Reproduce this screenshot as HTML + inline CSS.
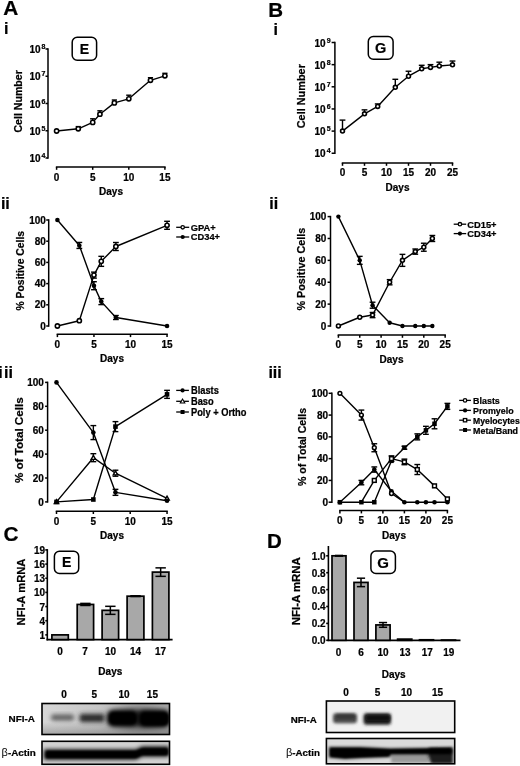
<!DOCTYPE html>
<html><head><meta charset="utf-8"><title>Figure</title>
<style>
html,body{margin:0;padding:0;background:#fff;}
body{width:520px;height:766px;overflow:hidden;}
svg{display:block;font-family:"Liberation Sans", sans-serif;will-change:transform;}
text{stroke:#000;stroke-width:0.22px;}
</style></head>
<body>
<svg width="520" height="766" viewBox="0 0 520 766">
<rect width="520" height="766" fill="#fff"/>
<defs>
<filter id="b1" x="-20%" y="-60%" width="140%" height="220%"><feGaussianBlur stdDeviation="1.5"/></filter>
<filter id="b2" x="-20%" y="-60%" width="140%" height="220%"><feGaussianBlur stdDeviation="2.0"/></filter>
<filter id="b3" x="-20%" y="-60%" width="140%" height="220%"><feGaussianBlur stdDeviation="1.1"/></filter>
<filter id="b5" x="-30%" y="-80%" width="160%" height="260%"><feGaussianBlur stdDeviation="5"/></filter>
<linearGradient id="gC1" x1="0" y1="0" x2="1" y2="0"><stop offset="0" stop-color="#d6d6d6"/><stop offset="0.45" stop-color="#c6c6c6"/><stop offset="1" stop-color="#a8a8a8"/></linearGradient>
<linearGradient id="gC1b" x1="0" y1="0" x2="0" y2="1"><stop offset="0" stop-color="#000" stop-opacity="0"/><stop offset="0.6" stop-color="#000" stop-opacity="0"/><stop offset="1" stop-color="#000" stop-opacity="0.22"/></linearGradient>
<clipPath id="cC1"><rect x="42" y="703.5" width="127.5" height="31"/></clipPath>
<clipPath id="cC2"><rect x="42" y="741.3" width="127.5" height="23"/></clipPath>
<clipPath id="cD1"><rect x="326.4" y="701" width="128.3" height="31.5"/></clipPath>
<clipPath id="cD2"><rect x="326.4" y="738.5" width="128.3" height="25.3"/></clipPath>
</defs>
<!-- C NFI-A -->
<g clip-path="url(#cC1)">
<rect x="42" y="703.5" width="127.5" height="31" fill="url(#gC1)"/>
<rect x="42" y="703.5" width="127.5" height="31" fill="url(#gC1b)"/>
<ellipse cx="138" cy="718" rx="32" ry="10" fill="#000" opacity="0.55" filter="url(#b5)"/>
<rect x="51" y="714.6" width="23" height="6" rx="2.5" fill="#5e5e5e" filter="url(#b2)"/>
<rect x="79.5" y="713.8" width="25" height="8.5" rx="3" fill="#2a2a2a" filter="url(#b2)"/>
<rect x="108" y="710.8" width="61" height="15.5" rx="5" fill="#000" opacity="0.6" filter="url(#b2)"/>
<rect x="108" y="711" width="29" height="14.5" rx="5" fill="#000" filter="url(#b2)"/>
<rect x="139" y="711" width="30" height="15.5" rx="5" fill="#000" filter="url(#b2)"/>
<rect x="110" y="713" width="26" height="10.5" rx="4" fill="#000" filter="url(#b3)"/>
<rect x="141" y="713" width="27" height="11.5" rx="4" fill="#000" filter="url(#b3)"/>
</g>
<rect x="42" y="703.5" width="127.5" height="31" fill="none" stroke="#000" stroke-width="1.6"/>
<!-- C b-Actin -->
<g clip-path="url(#cC2)">
<rect x="42" y="741.3" width="127.5" height="23" fill="#d2d2d2"/>
<path d="M44 749.5 L136 749.5 L142 746.5 L169 746.5 L169 756.5 L142 756.5 L136 759.5 L44 759.5 Z" fill="#000" filter="url(#b2)"/>
<path d="M46 751 L136 751 L142 748.5 L168 748.5 L168 755 L142 755 L136 758 L46 758 Z" fill="#000" filter="url(#b3)"/>
</g>
<rect x="42" y="741.3" width="127.5" height="23" fill="none" stroke="#000" stroke-width="1.6"/>
<!-- D NFI-A -->
<g clip-path="url(#cD1)">
<rect x="326.4" y="701" width="128.3" height="31.5" fill="#f1f1f1"/>
<rect x="333" y="713.2" width="24" height="10" rx="3" fill="#484848" filter="url(#b1)"/>
<rect x="336" y="714.5" width="19" height="4" rx="2" fill="#333" filter="url(#b1)"/>
<rect x="363.5" y="713.2" width="27.5" height="11.5" rx="3" fill="#222" filter="url(#b1)"/>
<rect x="366" y="715" width="24" height="6" rx="2" fill="#111" filter="url(#b1)"/>
</g>
<rect x="326.4" y="701" width="128.3" height="31.5" fill="none" stroke="#000" stroke-width="1.6"/>
<!-- D b-Actin -->
<g clip-path="url(#cD2)">
<rect x="326.4" y="738.5" width="128.3" height="25.3" fill="#dadada"/>
<rect x="391" y="752" width="38" height="11" fill="#9a9a9a" filter="url(#b1)"/>
<path d="M429 748 L453 747.5 L453 764 L431 764 L428 755 Z" fill="#1c1c1c" filter="url(#b1)"/>
<path d="M329 747 L360 747 L390 748.6 L428 748 L452 748 L452 754 L391 754.2 L390 757 L362 758 L345 759 L329 757.5 Z" fill="#000" filter="url(#b1)"/>
<path d="M331 749 L360 749 L390 750 L428 749.5 L450 749.5 L450 753 L390 753 L388 755.5 L362 756.5 L345 757.3 L331 756 Z" fill="#000" filter="url(#b3)"/>
</g>
<rect x="326.4" y="738.5" width="128.3" height="25.3" fill="none" stroke="#000" stroke-width="1.6"/>

<text x="3.20" y="14.60" font-size="20.8" text-anchor="start" font-weight="bold" >A</text>
<text x="4.00" y="34.20" font-size="16" text-anchor="start" font-weight="bold" >i</text>
<text x="0.90" y="208.50" font-size="16" text-anchor="start" font-weight="bold" >ii</text>
<text y="377.7" font-size="16" font-weight="bold"><tspan x="-1.75">i</tspan><tspan x="4.05">ii</tspan></text>
<text x="3.50" y="541.10" font-size="20.8" text-anchor="start" font-weight="bold" >C</text>
<text x="268.20" y="16.50" font-size="20.5" text-anchor="start" font-weight="bold" >B</text>
<text x="273.40" y="34.50" font-size="16" text-anchor="start" font-weight="bold" >i</text>
<text x="269.20" y="208.50" font-size="16" text-anchor="start" font-weight="bold" >ii</text>
<text x="268.40" y="377.50" font-size="16" text-anchor="start" font-weight="bold" >iii</text>
<text x="266.90" y="547.70" font-size="20.5" text-anchor="start" font-weight="bold" >D</text>
<line x1="48.00" y1="48.25" x2="48.00" y2="158.75" stroke="#000" stroke-width="1.5" />
<line x1="45.50" y1="49.00" x2="48.00" y2="49.00" stroke="#000" stroke-width="1.5" />
<line x1="45.50" y1="76.25" x2="48.00" y2="76.25" stroke="#000" stroke-width="1.5" />
<line x1="45.50" y1="103.50" x2="48.00" y2="103.50" stroke="#000" stroke-width="1.5" />
<line x1="45.50" y1="130.75" x2="48.00" y2="130.75" stroke="#000" stroke-width="1.5" />
<line x1="45.50" y1="158.00" x2="48.00" y2="158.00" stroke="#000" stroke-width="1.5" />
<text x="40.70" y="53.00" font-size="10" text-anchor="end" font-weight="bold">10</text>
<text x="41.40" y="49.20" font-size="7" text-anchor="start" font-weight="bold">8</text>
<text x="40.70" y="80.25" font-size="10" text-anchor="end" font-weight="bold">10</text>
<text x="41.40" y="76.45" font-size="7" text-anchor="start" font-weight="bold">7</text>
<text x="40.70" y="107.50" font-size="10" text-anchor="end" font-weight="bold">10</text>
<text x="41.40" y="103.70" font-size="7" text-anchor="start" font-weight="bold">6</text>
<text x="40.70" y="134.75" font-size="10" text-anchor="end" font-weight="bold">10</text>
<text x="41.40" y="130.95" font-size="7" text-anchor="start" font-weight="bold">5</text>
<text x="40.70" y="162.00" font-size="10" text-anchor="end" font-weight="bold">10</text>
<text x="41.40" y="158.20" font-size="7" text-anchor="start" font-weight="bold">4</text>
<line x1="55.85" y1="167.00" x2="165.65" y2="167.00" stroke="#000" stroke-width="1.5" />
<line x1="56.60" y1="167.00" x2="56.60" y2="169.80" stroke="#000" stroke-width="1.5" />
<text x="56.60" y="180.80" font-size="10" text-anchor="middle" font-weight="bold" >0</text>
<line x1="92.70" y1="167.00" x2="92.70" y2="169.80" stroke="#000" stroke-width="1.5" />
<text x="92.70" y="180.80" font-size="10" text-anchor="middle" font-weight="bold" >5</text>
<line x1="128.80" y1="167.00" x2="128.80" y2="169.80" stroke="#000" stroke-width="1.5" />
<text x="128.80" y="180.80" font-size="10" text-anchor="middle" font-weight="bold" >10</text>
<line x1="164.90" y1="167.00" x2="164.90" y2="169.80" stroke="#000" stroke-width="1.5" />
<text x="164.90" y="180.80" font-size="10" text-anchor="middle" font-weight="bold" >15</text>
<text x="111.00" y="195.00" font-size="10" text-anchor="middle" font-weight="bold" >Days</text>
<text transform="translate(21.80,101.40) rotate(-90)" font-size="10.6" text-anchor="middle" font-weight="bold">Cell Number</text>
<polyline points="56.60,131.00 78.26,128.80 92.70,122.40 99.92,114.20 114.36,102.90 128.80,98.80 150.46,80.30 164.90,75.80" fill="none" stroke="#000" stroke-width="1.4" stroke-linejoin="round"/>
<line x1="78.26" y1="128.80" x2="78.26" y2="126.60" stroke="#000" stroke-width="1.4" />
<line x1="75.66" y1="126.60" x2="80.86" y2="126.60" stroke="#000" stroke-width="1.4" />
<line x1="92.70" y1="122.40" x2="92.70" y2="118.80" stroke="#000" stroke-width="1.4" />
<line x1="90.10" y1="118.80" x2="95.30" y2="118.80" stroke="#000" stroke-width="1.4" />
<line x1="99.92" y1="114.20" x2="99.92" y2="110.80" stroke="#000" stroke-width="1.4" />
<line x1="97.32" y1="110.80" x2="102.52" y2="110.80" stroke="#000" stroke-width="1.4" />
<line x1="114.36" y1="102.90" x2="114.36" y2="100.00" stroke="#000" stroke-width="1.4" />
<line x1="111.76" y1="100.00" x2="116.96" y2="100.00" stroke="#000" stroke-width="1.4" />
<line x1="128.80" y1="98.80" x2="128.80" y2="95.20" stroke="#000" stroke-width="1.4" />
<line x1="126.20" y1="95.20" x2="131.40" y2="95.20" stroke="#000" stroke-width="1.4" />
<line x1="150.46" y1="80.30" x2="150.46" y2="77.70" stroke="#000" stroke-width="1.4" />
<line x1="147.86" y1="77.70" x2="153.06" y2="77.70" stroke="#000" stroke-width="1.4" />
<line x1="164.90" y1="75.80" x2="164.90" y2="73.30" stroke="#000" stroke-width="1.4" />
<line x1="162.30" y1="73.30" x2="167.50" y2="73.30" stroke="#000" stroke-width="1.4" />
<circle cx="56.60" cy="131.00" r="2.1" fill="#fff" stroke="#000" stroke-width="1.6"/>
<circle cx="78.26" cy="128.80" r="2.1" fill="#fff" stroke="#000" stroke-width="1.6"/>
<circle cx="92.70" cy="122.40" r="2.1" fill="#fff" stroke="#000" stroke-width="1.6"/>
<circle cx="99.92" cy="114.20" r="2.1" fill="#fff" stroke="#000" stroke-width="1.6"/>
<circle cx="114.36" cy="102.90" r="2.1" fill="#fff" stroke="#000" stroke-width="1.6"/>
<circle cx="128.80" cy="98.80" r="2.1" fill="#fff" stroke="#000" stroke-width="1.6"/>
<circle cx="150.46" cy="80.30" r="2.1" fill="#fff" stroke="#000" stroke-width="1.6"/>
<circle cx="164.90" cy="75.80" r="2.1" fill="#fff" stroke="#000" stroke-width="1.6"/>
<rect x="72.2" y="37.3" width="24.4" height="23" rx="5" ry="5" fill="#fff" stroke="#000" stroke-width="1.5"/>
<text x="84.40" y="53.84" font-size="14" text-anchor="middle" font-weight="bold" >E</text>
<line x1="48.70" y1="219.25" x2="48.70" y2="326.75" stroke="#000" stroke-width="1.5" />
<line x1="46.20" y1="326.00" x2="48.70" y2="326.00" stroke="#000" stroke-width="1.5" />
<text x="45.90" y="329.60" font-size="10" text-anchor="end" font-weight="bold" >0</text>
<line x1="46.20" y1="304.80" x2="48.70" y2="304.80" stroke="#000" stroke-width="1.5" />
<text x="45.90" y="308.40" font-size="10" text-anchor="end" font-weight="bold" >20</text>
<line x1="46.20" y1="283.60" x2="48.70" y2="283.60" stroke="#000" stroke-width="1.5" />
<text x="45.90" y="287.20" font-size="10" text-anchor="end" font-weight="bold" >40</text>
<line x1="46.20" y1="262.40" x2="48.70" y2="262.40" stroke="#000" stroke-width="1.5" />
<text x="45.90" y="266.00" font-size="10" text-anchor="end" font-weight="bold" >60</text>
<line x1="46.20" y1="241.20" x2="48.70" y2="241.20" stroke="#000" stroke-width="1.5" />
<text x="45.90" y="244.80" font-size="10" text-anchor="end" font-weight="bold" >80</text>
<line x1="46.20" y1="220.00" x2="48.70" y2="220.00" stroke="#000" stroke-width="1.5" />
<text x="45.90" y="223.60" font-size="10" text-anchor="end" font-weight="bold" >100</text>
<line x1="56.65" y1="334.30" x2="167.80" y2="334.30" stroke="#000" stroke-width="1.5" />
<line x1="57.40" y1="334.30" x2="57.40" y2="337.10" stroke="#000" stroke-width="1.5" />
<text x="57.40" y="347.60" font-size="10" text-anchor="middle" font-weight="bold" >0</text>
<line x1="93.95" y1="334.30" x2="93.95" y2="337.10" stroke="#000" stroke-width="1.5" />
<text x="93.95" y="347.60" font-size="10" text-anchor="middle" font-weight="bold" >5</text>
<line x1="130.50" y1="334.30" x2="130.50" y2="337.10" stroke="#000" stroke-width="1.5" />
<text x="130.50" y="347.60" font-size="10" text-anchor="middle" font-weight="bold" >10</text>
<line x1="167.05" y1="334.30" x2="167.05" y2="337.10" stroke="#000" stroke-width="1.5" />
<text x="167.05" y="347.60" font-size="10" text-anchor="middle" font-weight="bold" >15</text>
<text x="112.00" y="361.60" font-size="10" text-anchor="middle" font-weight="bold" >Days</text>
<text transform="translate(23.80,270.70) rotate(-90)" font-size="10.4" text-anchor="middle" font-weight="bold">% Positive Cells</text>
<polyline points="57.40,220.00 79.33,245.44 93.95,285.72 101.26,301.62 115.88,317.52 167.05,326.00" fill="none" stroke="#000" stroke-width="1.4" stroke-linejoin="round"/>
<line x1="79.33" y1="245.44" x2="79.33" y2="242.44" stroke="#000" stroke-width="1.4" />
<line x1="76.43" y1="242.44" x2="82.23" y2="242.44" stroke="#000" stroke-width="1.4" />
<line x1="79.33" y1="245.44" x2="79.33" y2="248.44" stroke="#000" stroke-width="1.4" />
<line x1="76.43" y1="248.44" x2="82.23" y2="248.44" stroke="#000" stroke-width="1.4" />
<line x1="93.95" y1="285.72" x2="93.95" y2="281.72" stroke="#000" stroke-width="1.4" />
<line x1="91.05" y1="281.72" x2="96.85" y2="281.72" stroke="#000" stroke-width="1.4" />
<line x1="93.95" y1="285.72" x2="93.95" y2="289.72" stroke="#000" stroke-width="1.4" />
<line x1="91.05" y1="289.72" x2="96.85" y2="289.72" stroke="#000" stroke-width="1.4" />
<line x1="101.26" y1="301.62" x2="101.26" y2="298.62" stroke="#000" stroke-width="1.4" />
<line x1="98.36" y1="298.62" x2="104.16" y2="298.62" stroke="#000" stroke-width="1.4" />
<line x1="101.26" y1="301.62" x2="101.26" y2="304.62" stroke="#000" stroke-width="1.4" />
<line x1="98.36" y1="304.62" x2="104.16" y2="304.62" stroke="#000" stroke-width="1.4" />
<line x1="115.88" y1="317.52" x2="115.88" y2="315.52" stroke="#000" stroke-width="1.4" />
<line x1="112.98" y1="315.52" x2="118.78" y2="315.52" stroke="#000" stroke-width="1.4" />
<line x1="115.88" y1="317.52" x2="115.88" y2="319.52" stroke="#000" stroke-width="1.4" />
<line x1="112.98" y1="319.52" x2="118.78" y2="319.52" stroke="#000" stroke-width="1.4" />
<circle cx="57.40" cy="220.00" r="2.3" fill="#000"/>
<circle cx="79.33" cy="245.44" r="2.3" fill="#000"/>
<circle cx="93.95" cy="285.72" r="2.3" fill="#000"/>
<circle cx="101.26" cy="301.62" r="2.3" fill="#000"/>
<circle cx="115.88" cy="317.52" r="2.3" fill="#000"/>
<circle cx="167.05" cy="326.00" r="2.3" fill="#000"/>
<polyline points="57.40,326.00 79.33,320.70 93.95,275.12 101.26,261.34 115.88,246.50 167.05,225.30" fill="none" stroke="#000" stroke-width="1.4" stroke-linejoin="round"/>
<line x1="93.95" y1="275.12" x2="93.95" y2="272.12" stroke="#000" stroke-width="1.4" />
<line x1="91.05" y1="272.12" x2="96.85" y2="272.12" stroke="#000" stroke-width="1.4" />
<line x1="93.95" y1="275.12" x2="93.95" y2="278.12" stroke="#000" stroke-width="1.4" />
<line x1="91.05" y1="278.12" x2="96.85" y2="278.12" stroke="#000" stroke-width="1.4" />
<line x1="101.26" y1="261.34" x2="101.26" y2="256.34" stroke="#000" stroke-width="1.4" />
<line x1="98.36" y1="256.34" x2="104.16" y2="256.34" stroke="#000" stroke-width="1.4" />
<line x1="101.26" y1="261.34" x2="101.26" y2="266.34" stroke="#000" stroke-width="1.4" />
<line x1="98.36" y1="266.34" x2="104.16" y2="266.34" stroke="#000" stroke-width="1.4" />
<line x1="115.88" y1="246.50" x2="115.88" y2="242.50" stroke="#000" stroke-width="1.4" />
<line x1="112.98" y1="242.50" x2="118.78" y2="242.50" stroke="#000" stroke-width="1.4" />
<line x1="115.88" y1="246.50" x2="115.88" y2="250.50" stroke="#000" stroke-width="1.4" />
<line x1="112.98" y1="250.50" x2="118.78" y2="250.50" stroke="#000" stroke-width="1.4" />
<line x1="167.05" y1="225.30" x2="167.05" y2="221.30" stroke="#000" stroke-width="1.4" />
<line x1="164.15" y1="221.30" x2="169.95" y2="221.30" stroke="#000" stroke-width="1.4" />
<line x1="167.05" y1="225.30" x2="167.05" y2="229.30" stroke="#000" stroke-width="1.4" />
<line x1="164.15" y1="229.30" x2="169.95" y2="229.30" stroke="#000" stroke-width="1.4" />
<circle cx="57.40" cy="326.00" r="2.1" fill="#fff" stroke="#000" stroke-width="1.6"/>
<circle cx="79.33" cy="320.70" r="2.1" fill="#fff" stroke="#000" stroke-width="1.6"/>
<circle cx="93.95" cy="275.12" r="2.1" fill="#fff" stroke="#000" stroke-width="1.6"/>
<circle cx="101.26" cy="261.34" r="2.1" fill="#fff" stroke="#000" stroke-width="1.6"/>
<circle cx="115.88" cy="246.50" r="2.1" fill="#fff" stroke="#000" stroke-width="1.6"/>
<circle cx="167.05" cy="225.30" r="2.1" fill="#fff" stroke="#000" stroke-width="1.6"/>
<line x1="176.20" y1="227.30" x2="189.20" y2="227.30" stroke="#000" stroke-width="1.3" />
<circle cx="182.70" cy="227.30" r="1.7" fill="#fff" stroke="#000" stroke-width="1.3"/>
<text x="190.80" y="230.65" font-size="9.3" text-anchor="start" font-weight="bold" >GPA+</text>
<line x1="176.20" y1="237.00" x2="189.20" y2="237.00" stroke="#000" stroke-width="1.3" />
<circle cx="182.70" cy="237.00" r="2.1" fill="#000"/>
<text x="190.80" y="240.35" font-size="9.3" text-anchor="start" font-weight="bold" >CD34+</text>
<line x1="55.75" y1="511.20" x2="167.80" y2="511.20" stroke="#000" stroke-width="1.5" />
<line x1="56.50" y1="511.20" x2="56.50" y2="514.00" stroke="#000" stroke-width="1.5" />
<text transform="translate(56.50,525.00) scale(1.0,1.12)" font-size="10" text-anchor="middle" font-weight="bold" >0</text>
<line x1="93.35" y1="511.20" x2="93.35" y2="514.00" stroke="#000" stroke-width="1.5" />
<text transform="translate(93.35,525.00) scale(1.0,1.12)" font-size="10" text-anchor="middle" font-weight="bold" >5</text>
<line x1="130.20" y1="511.20" x2="130.20" y2="514.00" stroke="#000" stroke-width="1.5" />
<text transform="translate(130.20,525.00) scale(1.0,1.12)" font-size="10" text-anchor="middle" font-weight="bold" >10</text>
<line x1="167.05" y1="511.20" x2="167.05" y2="514.00" stroke="#000" stroke-width="1.5" />
<text transform="translate(167.05,525.00) scale(1.0,1.12)" font-size="10" text-anchor="middle" font-weight="bold" >15</text>
<line x1="47.60" y1="381.65" x2="47.60" y2="502.65" stroke="#000" stroke-width="1.5" />
<line x1="45.10" y1="501.90" x2="47.60" y2="501.90" stroke="#000" stroke-width="1.5" />
<text transform="translate(43.90,505.93) scale(1.0,1.12)" font-size="10" text-anchor="end" font-weight="bold" >0</text>
<line x1="45.10" y1="478.00" x2="47.60" y2="478.00" stroke="#000" stroke-width="1.5" />
<text transform="translate(43.90,482.03) scale(1.0,1.12)" font-size="10" text-anchor="end" font-weight="bold" >20</text>
<line x1="45.10" y1="454.10" x2="47.60" y2="454.10" stroke="#000" stroke-width="1.5" />
<text transform="translate(43.90,458.13) scale(1.0,1.12)" font-size="10" text-anchor="end" font-weight="bold" >40</text>
<line x1="45.10" y1="430.20" x2="47.60" y2="430.20" stroke="#000" stroke-width="1.5" />
<text transform="translate(43.90,434.23) scale(1.0,1.12)" font-size="10" text-anchor="end" font-weight="bold" >60</text>
<line x1="45.10" y1="406.30" x2="47.60" y2="406.30" stroke="#000" stroke-width="1.5" />
<text transform="translate(43.90,410.33) scale(1.0,1.12)" font-size="10" text-anchor="end" font-weight="bold" >80</text>
<line x1="45.10" y1="382.40" x2="47.60" y2="382.40" stroke="#000" stroke-width="1.5" />
<text transform="translate(43.90,386.43) scale(1.0,1.12)" font-size="10" text-anchor="end" font-weight="bold" >100</text>
<text transform="translate(112.00,539.20) scale(1.0,1.12)" font-size="10" text-anchor="middle" font-weight="bold" >Days</text>
<text transform="translate(22.80,440.20) rotate(-90) scale(1.12,1.0)" font-size="10.4" text-anchor="middle" font-weight="bold">% of Total Cells</text>
<polyline points="56.50,501.90 93.35,457.68 115.46,473.22 167.05,498.31" fill="none" stroke="#000" stroke-width="1.4" stroke-linejoin="round"/>
<line x1="93.35" y1="457.68" x2="93.35" y2="453.68" stroke="#000" stroke-width="1.4" />
<line x1="90.45" y1="453.68" x2="96.25" y2="453.68" stroke="#000" stroke-width="1.4" />
<line x1="93.35" y1="457.68" x2="93.35" y2="461.68" stroke="#000" stroke-width="1.4" />
<line x1="90.45" y1="461.68" x2="96.25" y2="461.68" stroke="#000" stroke-width="1.4" />
<line x1="115.46" y1="473.22" x2="115.46" y2="470.22" stroke="#000" stroke-width="1.4" />
<line x1="112.56" y1="470.22" x2="118.36" y2="470.22" stroke="#000" stroke-width="1.4" />
<line x1="115.46" y1="473.22" x2="115.46" y2="476.22" stroke="#000" stroke-width="1.4" />
<line x1="112.56" y1="476.22" x2="118.36" y2="476.22" stroke="#000" stroke-width="1.4" />
<polygon points="56.50,499.70 54.30,503.55 58.70,503.55" fill="#fff" stroke="#000" stroke-width="1.4" stroke-linejoin="miter"/>
<polygon points="93.35,455.48 91.15,459.33 95.55,459.33" fill="#fff" stroke="#000" stroke-width="1.4" stroke-linejoin="miter"/>
<polygon points="115.46,471.02 113.26,474.87 117.66,474.87" fill="#fff" stroke="#000" stroke-width="1.4" stroke-linejoin="miter"/>
<polygon points="167.05,496.12 164.85,499.96 169.25,499.96" fill="#fff" stroke="#000" stroke-width="1.4" stroke-linejoin="miter"/>
<polyline points="56.50,501.90 93.35,499.51 115.46,426.62 167.05,394.35" fill="none" stroke="#000" stroke-width="1.4" stroke-linejoin="round"/>
<line x1="115.46" y1="426.62" x2="115.46" y2="421.62" stroke="#000" stroke-width="1.4" />
<line x1="112.56" y1="421.62" x2="118.36" y2="421.62" stroke="#000" stroke-width="1.4" />
<line x1="115.46" y1="426.62" x2="115.46" y2="431.62" stroke="#000" stroke-width="1.4" />
<line x1="112.56" y1="431.62" x2="118.36" y2="431.62" stroke="#000" stroke-width="1.4" />
<line x1="167.05" y1="394.35" x2="167.05" y2="390.35" stroke="#000" stroke-width="1.4" />
<line x1="164.15" y1="390.35" x2="169.95" y2="390.35" stroke="#000" stroke-width="1.4" />
<line x1="167.05" y1="394.35" x2="167.05" y2="398.35" stroke="#000" stroke-width="1.4" />
<line x1="164.15" y1="398.35" x2="169.95" y2="398.35" stroke="#000" stroke-width="1.4" />
<rect x="54.20" y="499.60" width="4.6" height="4.6" fill="#000"/>
<rect x="91.05" y="497.21" width="4.6" height="4.6" fill="#000"/>
<rect x="113.16" y="424.31" width="4.6" height="4.6" fill="#000"/>
<rect x="164.75" y="392.05" width="4.6" height="4.6" fill="#000"/>
<polyline points="56.50,382.40 93.35,432.59 115.46,492.34 167.05,500.70" fill="none" stroke="#000" stroke-width="1.4" stroke-linejoin="round"/>
<line x1="93.35" y1="432.59" x2="93.35" y2="425.59" stroke="#000" stroke-width="1.4" />
<line x1="90.45" y1="425.59" x2="96.25" y2="425.59" stroke="#000" stroke-width="1.4" />
<line x1="93.35" y1="432.59" x2="93.35" y2="439.59" stroke="#000" stroke-width="1.4" />
<line x1="90.45" y1="439.59" x2="96.25" y2="439.59" stroke="#000" stroke-width="1.4" />
<line x1="115.46" y1="492.34" x2="115.46" y2="489.34" stroke="#000" stroke-width="1.4" />
<line x1="112.56" y1="489.34" x2="118.36" y2="489.34" stroke="#000" stroke-width="1.4" />
<line x1="115.46" y1="492.34" x2="115.46" y2="495.34" stroke="#000" stroke-width="1.4" />
<line x1="112.56" y1="495.34" x2="118.36" y2="495.34" stroke="#000" stroke-width="1.4" />
<circle cx="56.50" cy="382.40" r="2.3" fill="#000"/>
<circle cx="93.35" cy="432.59" r="2.3" fill="#000"/>
<circle cx="115.46" cy="492.34" r="2.3" fill="#000"/>
<circle cx="167.05" cy="500.70" r="2.3" fill="#000"/>
<line x1="176.20" y1="390.40" x2="188.90" y2="390.40" stroke="#000" stroke-width="1.3" />
<circle cx="182.55" cy="390.40" r="2.1" fill="#000"/>
<text transform="translate(191.00,394.15) scale(1.0,1.12)" font-size="9.3" text-anchor="start" font-weight="bold" >Blasts</text>
<line x1="176.20" y1="401.30" x2="188.90" y2="401.30" stroke="#000" stroke-width="1.3" />
<polygon points="182.55,399.05 180.30,402.99 184.80,402.99" fill="#fff" stroke="#000" stroke-width="1.1" stroke-linejoin="miter"/>
<text transform="translate(191.00,405.05) scale(1.0,1.12)" font-size="9.3" text-anchor="start" font-weight="bold" >Baso</text>
<line x1="176.20" y1="412.00" x2="188.90" y2="412.00" stroke="#000" stroke-width="1.3" />
<rect x="180.55" y="410.00" width="4.0" height="4.0" fill="#000"/>
<text transform="translate(191.00,415.75) scale(1.0,1.12)" font-size="9.3" text-anchor="start" font-weight="bold" >Poly + Ortho</text>
<line x1="47.30" y1="549.12" x2="47.30" y2="640.40" stroke="#000" stroke-width="1.6" />
<line x1="45.30" y1="634.88" x2="47.30" y2="634.88" stroke="#000" stroke-width="1.6" />
<text transform="translate(45.10,638.84) scale(1.0,1.1)" font-size="10" text-anchor="end" font-weight="bold" >1</text>
<line x1="45.30" y1="620.72" x2="47.30" y2="620.72" stroke="#000" stroke-width="1.6" />
<text transform="translate(45.10,624.68) scale(1.0,1.1)" font-size="10" text-anchor="end" font-weight="bold" >4</text>
<line x1="45.30" y1="606.56" x2="47.30" y2="606.56" stroke="#000" stroke-width="1.6" />
<text transform="translate(45.10,610.52) scale(1.0,1.1)" font-size="10" text-anchor="end" font-weight="bold" >7</text>
<line x1="45.30" y1="592.40" x2="47.30" y2="592.40" stroke="#000" stroke-width="1.6" />
<text transform="translate(45.10,596.36) scale(1.0,1.1)" font-size="10" text-anchor="end" font-weight="bold" >10</text>
<line x1="45.30" y1="578.24" x2="47.30" y2="578.24" stroke="#000" stroke-width="1.6" />
<text transform="translate(45.10,582.20) scale(1.0,1.1)" font-size="10" text-anchor="end" font-weight="bold" >13</text>
<line x1="45.30" y1="564.08" x2="47.30" y2="564.08" stroke="#000" stroke-width="1.6" />
<text transform="translate(45.10,568.04) scale(1.0,1.1)" font-size="10" text-anchor="end" font-weight="bold" >16</text>
<line x1="45.30" y1="549.92" x2="47.30" y2="549.92" stroke="#000" stroke-width="1.6" />
<text transform="translate(45.10,553.88) scale(1.0,1.1)" font-size="10" text-anchor="end" font-weight="bold" >19</text>
<line x1="46.50" y1="639.60" x2="172.60" y2="639.60" stroke="#000" stroke-width="1.7" />
<rect x="51.9" y="634.88" width="16.40" height="4.72" fill="#a8a8a8" stroke="#000" stroke-width="1.7"/>
<rect x="77.2" y="604.44" width="16.40" height="35.16" fill="#a8a8a8" stroke="#000" stroke-width="1.7"/>
<line x1="85.40" y1="604.44" x2="85.40" y2="603.40" stroke="#000" stroke-width="1.5" />
<line x1="80.20" y1="603.40" x2="90.60" y2="603.40" stroke="#000" stroke-width="1.5" />
<line x1="85.40" y1="604.44" x2="85.40" y2="605.47" stroke="#000" stroke-width="1.5" />
<line x1="80.20" y1="605.47" x2="90.60" y2="605.47" stroke="#000" stroke-width="1.5" />
<rect x="102.1" y="610.34" width="16.50" height="29.26" fill="#a8a8a8" stroke="#000" stroke-width="1.7"/>
<line x1="110.35" y1="610.34" x2="110.35" y2="606.32" stroke="#000" stroke-width="1.5" />
<line x1="105.15" y1="606.32" x2="115.55" y2="606.32" stroke="#000" stroke-width="1.5" />
<line x1="110.35" y1="610.34" x2="110.35" y2="614.35" stroke="#000" stroke-width="1.5" />
<line x1="105.15" y1="614.35" x2="115.55" y2="614.35" stroke="#000" stroke-width="1.5" />
<rect x="127.1" y="596.18" width="16.80" height="43.42" fill="#a8a8a8" stroke="#000" stroke-width="1.7"/>
<line x1="135.50" y1="596.18" x2="135.50" y2="595.80" stroke="#000" stroke-width="1.5" />
<line x1="130.30" y1="595.80" x2="140.70" y2="595.80" stroke="#000" stroke-width="1.5" />
<line x1="135.50" y1="596.18" x2="135.50" y2="596.55" stroke="#000" stroke-width="1.5" />
<line x1="130.30" y1="596.55" x2="140.70" y2="596.55" stroke="#000" stroke-width="1.5" />
<rect x="152.4" y="572.10" width="16.50" height="67.50" fill="#a8a8a8" stroke="#000" stroke-width="1.7"/>
<line x1="160.65" y1="572.10" x2="160.65" y2="567.86" stroke="#000" stroke-width="1.5" />
<line x1="155.45" y1="567.86" x2="165.85" y2="567.86" stroke="#000" stroke-width="1.5" />
<line x1="160.65" y1="572.10" x2="160.65" y2="576.35" stroke="#000" stroke-width="1.5" />
<line x1="155.45" y1="576.35" x2="165.85" y2="576.35" stroke="#000" stroke-width="1.5" />
<text transform="translate(60.00,654.80) scale(1.0,1.1)" font-size="10" text-anchor="middle" font-weight="bold" >0</text>
<text transform="translate(85.00,654.80) scale(1.0,1.1)" font-size="10" text-anchor="middle" font-weight="bold" >7</text>
<text transform="translate(110.50,654.80) scale(1.0,1.1)" font-size="10" text-anchor="middle" font-weight="bold" >10</text>
<text transform="translate(135.50,654.80) scale(1.0,1.1)" font-size="10" text-anchor="middle" font-weight="bold" >14</text>
<text transform="translate(160.50,654.80) scale(1.0,1.1)" font-size="10" text-anchor="middle" font-weight="bold" >17</text>
<text transform="translate(110.30,675.20) scale(1.0,1.1)" font-size="10" text-anchor="middle" font-weight="bold" >Days</text>
<text transform="translate(24.70,592.00) rotate(-90) scale(1.1,1.0)" font-size="10.2" text-anchor="middle" font-weight="bold">NFI-A mRNA</text>
<rect x="54.4" y="551.2" width="24.3" height="22.3" rx="5" ry="5" fill="#fff" stroke="#000" stroke-width="1.5"/>
<text x="66.55" y="567.39" font-size="14" text-anchor="middle" font-weight="bold" >E</text>
<text x="64.00" y="698.40" font-size="10" text-anchor="middle" font-weight="bold" >0</text>
<text x="94.20" y="698.40" font-size="10" text-anchor="middle" font-weight="bold" >5</text>
<text x="124.00" y="698.40" font-size="10" text-anchor="middle" font-weight="bold" >10</text>
<text x="152.40" y="698.40" font-size="10" text-anchor="middle" font-weight="bold" >15</text>
<text x="8.60" y="722.00" font-size="9.9" text-anchor="start" font-weight="bold" >NFI-A</text>
<text x="1.60" y="756.00" font-size="9.9" text-anchor="start" font-weight="bold" ><tspan font-weight="normal" font-size="11" stroke-width="0">&#946;</tspan>-Actin</text>
<line x1="334.90" y1="41.75" x2="334.90" y2="154.00" stroke="#000" stroke-width="1.5" />
<line x1="331.60" y1="42.50" x2="334.90" y2="42.50" stroke="#000" stroke-width="1.5" />
<line x1="331.60" y1="64.65" x2="334.90" y2="64.65" stroke="#000" stroke-width="1.5" />
<line x1="331.60" y1="86.80" x2="334.90" y2="86.80" stroke="#000" stroke-width="1.5" />
<line x1="331.60" y1="108.95" x2="334.90" y2="108.95" stroke="#000" stroke-width="1.5" />
<line x1="331.60" y1="131.10" x2="334.90" y2="131.10" stroke="#000" stroke-width="1.5" />
<line x1="331.60" y1="153.25" x2="334.90" y2="153.25" stroke="#000" stroke-width="1.5" />
<text x="325.70" y="46.50" font-size="10" text-anchor="end" font-weight="bold">10</text>
<text x="326.80" y="42.70" font-size="7" text-anchor="start" font-weight="bold">9</text>
<text x="325.70" y="68.65" font-size="10" text-anchor="end" font-weight="bold">10</text>
<text x="326.80" y="64.85" font-size="7" text-anchor="start" font-weight="bold">8</text>
<text x="325.70" y="90.80" font-size="10" text-anchor="end" font-weight="bold">10</text>
<text x="326.80" y="87.00" font-size="7" text-anchor="start" font-weight="bold">7</text>
<text x="325.70" y="112.95" font-size="10" text-anchor="end" font-weight="bold">10</text>
<text x="326.80" y="109.15" font-size="7" text-anchor="start" font-weight="bold">6</text>
<text x="325.70" y="135.10" font-size="10" text-anchor="end" font-weight="bold">10</text>
<text x="326.80" y="131.30" font-size="7" text-anchor="start" font-weight="bold">5</text>
<text x="325.70" y="157.25" font-size="10" text-anchor="end" font-weight="bold">10</text>
<text x="326.80" y="153.45" font-size="7" text-anchor="start" font-weight="bold">4</text>
<line x1="341.75" y1="163.00" x2="453.25" y2="163.00" stroke="#000" stroke-width="1.5" />
<line x1="342.50" y1="163.00" x2="342.50" y2="165.80" stroke="#000" stroke-width="1.5" />
<text x="342.50" y="176.20" font-size="10" text-anchor="middle" font-weight="bold" >0</text>
<line x1="364.50" y1="163.00" x2="364.50" y2="165.80" stroke="#000" stroke-width="1.5" />
<text x="364.50" y="176.20" font-size="10" text-anchor="middle" font-weight="bold" >5</text>
<line x1="386.50" y1="163.00" x2="386.50" y2="165.80" stroke="#000" stroke-width="1.5" />
<text x="386.50" y="176.20" font-size="10" text-anchor="middle" font-weight="bold" >10</text>
<line x1="408.50" y1="163.00" x2="408.50" y2="165.80" stroke="#000" stroke-width="1.5" />
<text x="408.50" y="176.20" font-size="10" text-anchor="middle" font-weight="bold" >15</text>
<line x1="430.50" y1="163.00" x2="430.50" y2="165.80" stroke="#000" stroke-width="1.5" />
<text x="430.50" y="176.20" font-size="10" text-anchor="middle" font-weight="bold" >20</text>
<line x1="452.50" y1="163.00" x2="452.50" y2="165.80" stroke="#000" stroke-width="1.5" />
<text x="452.50" y="176.20" font-size="10" text-anchor="middle" font-weight="bold" >25</text>
<text x="397.50" y="190.60" font-size="10" text-anchor="middle" font-weight="bold" >Days</text>
<text transform="translate(304.80,96.20) rotate(-90)" font-size="10.9" text-anchor="middle" font-weight="bold">Cell Number</text>
<polyline points="342.50,131.10 364.50,113.86 377.70,106.43 395.30,87.29 408.50,76.23 421.70,68.79 430.50,67.42 439.30,65.99 452.50,64.84" fill="none" stroke="#000" stroke-width="1.4" stroke-linejoin="round"/>
<line x1="342.50" y1="131.10" x2="342.50" y2="120.10" stroke="#000" stroke-width="1.4" />
<line x1="339.60" y1="120.10" x2="345.40" y2="120.10" stroke="#000" stroke-width="1.4" />
<line x1="364.50" y1="113.86" x2="364.50" y2="109.86" stroke="#000" stroke-width="1.4" />
<line x1="361.60" y1="109.86" x2="367.40" y2="109.86" stroke="#000" stroke-width="1.4" />
<line x1="377.70" y1="106.43" x2="377.70" y2="103.93" stroke="#000" stroke-width="1.4" />
<line x1="374.80" y1="103.93" x2="380.60" y2="103.93" stroke="#000" stroke-width="1.4" />
<line x1="395.30" y1="87.29" x2="395.30" y2="79.29" stroke="#000" stroke-width="1.4" />
<line x1="392.40" y1="79.29" x2="398.20" y2="79.29" stroke="#000" stroke-width="1.4" />
<line x1="408.50" y1="76.23" x2="408.50" y2="71.23" stroke="#000" stroke-width="1.4" />
<line x1="405.60" y1="71.23" x2="411.40" y2="71.23" stroke="#000" stroke-width="1.4" />
<line x1="421.70" y1="68.79" x2="421.70" y2="65.29" stroke="#000" stroke-width="1.4" />
<line x1="418.80" y1="65.29" x2="424.60" y2="65.29" stroke="#000" stroke-width="1.4" />
<line x1="430.50" y1="67.42" x2="430.50" y2="64.62" stroke="#000" stroke-width="1.4" />
<line x1="427.60" y1="64.62" x2="433.40" y2="64.62" stroke="#000" stroke-width="1.4" />
<line x1="439.30" y1="65.99" x2="439.30" y2="62.19" stroke="#000" stroke-width="1.4" />
<line x1="436.40" y1="62.19" x2="442.20" y2="62.19" stroke="#000" stroke-width="1.4" />
<line x1="452.50" y1="64.84" x2="452.50" y2="61.04" stroke="#000" stroke-width="1.4" />
<line x1="449.60" y1="61.04" x2="455.40" y2="61.04" stroke="#000" stroke-width="1.4" />
<circle cx="342.50" cy="131.10" r="1.95" fill="#fff" stroke="#000" stroke-width="1.6"/>
<circle cx="364.50" cy="113.86" r="1.95" fill="#fff" stroke="#000" stroke-width="1.6"/>
<circle cx="377.70" cy="106.43" r="1.95" fill="#fff" stroke="#000" stroke-width="1.6"/>
<circle cx="395.30" cy="87.29" r="1.95" fill="#fff" stroke="#000" stroke-width="1.6"/>
<circle cx="408.50" cy="76.23" r="1.95" fill="#fff" stroke="#000" stroke-width="1.6"/>
<circle cx="421.70" cy="68.79" r="1.95" fill="#fff" stroke="#000" stroke-width="1.6"/>
<circle cx="430.50" cy="67.42" r="1.95" fill="#fff" stroke="#000" stroke-width="1.6"/>
<circle cx="439.30" cy="65.99" r="1.95" fill="#fff" stroke="#000" stroke-width="1.6"/>
<circle cx="452.50" cy="64.84" r="1.95" fill="#fff" stroke="#000" stroke-width="1.6"/>
<rect x="368.3" y="36.5" width="24.8" height="22.7" rx="5" ry="5" fill="#fff" stroke="#000" stroke-width="1.5"/>
<text x="380.70" y="53.07" font-size="14.5" text-anchor="middle" font-weight="bold" >G</text>
<line x1="330.50" y1="215.85" x2="330.50" y2="326.75" stroke="#000" stroke-width="1.5" />
<line x1="327.60" y1="326.00" x2="330.50" y2="326.00" stroke="#000" stroke-width="1.5" />
<text x="326.40" y="329.60" font-size="10" text-anchor="end" font-weight="bold" >0</text>
<line x1="327.60" y1="304.12" x2="330.50" y2="304.12" stroke="#000" stroke-width="1.5" />
<text x="326.40" y="307.72" font-size="10" text-anchor="end" font-weight="bold" >20</text>
<line x1="327.60" y1="282.24" x2="330.50" y2="282.24" stroke="#000" stroke-width="1.5" />
<text x="326.40" y="285.84" font-size="10" text-anchor="end" font-weight="bold" >40</text>
<line x1="327.60" y1="260.36" x2="330.50" y2="260.36" stroke="#000" stroke-width="1.5" />
<text x="326.40" y="263.96" font-size="10" text-anchor="end" font-weight="bold" >60</text>
<line x1="327.60" y1="238.48" x2="330.50" y2="238.48" stroke="#000" stroke-width="1.5" />
<text x="326.40" y="242.08" font-size="10" text-anchor="end" font-weight="bold" >80</text>
<line x1="327.60" y1="216.60" x2="330.50" y2="216.60" stroke="#000" stroke-width="1.5" />
<text x="326.40" y="220.20" font-size="10" text-anchor="end" font-weight="bold" >100</text>
<line x1="337.65" y1="335.00" x2="445.90" y2="335.00" stroke="#000" stroke-width="1.5" />
<line x1="338.40" y1="335.00" x2="338.40" y2="337.80" stroke="#000" stroke-width="1.5" />
<text x="338.40" y="348.00" font-size="10" text-anchor="middle" font-weight="bold" >0</text>
<line x1="359.75" y1="335.00" x2="359.75" y2="337.80" stroke="#000" stroke-width="1.5" />
<text x="359.75" y="348.00" font-size="10" text-anchor="middle" font-weight="bold" >5</text>
<line x1="381.10" y1="335.00" x2="381.10" y2="337.80" stroke="#000" stroke-width="1.5" />
<text x="381.10" y="348.00" font-size="10" text-anchor="middle" font-weight="bold" >10</text>
<line x1="402.45" y1="335.00" x2="402.45" y2="337.80" stroke="#000" stroke-width="1.5" />
<text x="402.45" y="348.00" font-size="10" text-anchor="middle" font-weight="bold" >15</text>
<line x1="423.80" y1="335.00" x2="423.80" y2="337.80" stroke="#000" stroke-width="1.5" />
<text x="423.80" y="348.00" font-size="10" text-anchor="middle" font-weight="bold" >20</text>
<line x1="445.15" y1="335.00" x2="445.15" y2="337.80" stroke="#000" stroke-width="1.5" />
<text x="445.15" y="348.00" font-size="10" text-anchor="middle" font-weight="bold" >25</text>
<text x="391.50" y="362.60" font-size="10" text-anchor="middle" font-weight="bold" >Days</text>
<text transform="translate(305.40,269.20) rotate(-90)" font-size="10.8" text-anchor="middle" font-weight="bold">% Positive Cells</text>
<polyline points="338.40,216.60 359.75,260.36 372.56,305.21 389.64,322.72 402.45,326.00 415.26,326.00 423.80,326.00 432.34,326.00" fill="none" stroke="#000" stroke-width="1.4" stroke-linejoin="round"/>
<line x1="359.75" y1="260.36" x2="359.75" y2="256.36" stroke="#000" stroke-width="1.4" />
<line x1="356.85" y1="256.36" x2="362.65" y2="256.36" stroke="#000" stroke-width="1.4" />
<line x1="359.75" y1="260.36" x2="359.75" y2="264.36" stroke="#000" stroke-width="1.4" />
<line x1="356.85" y1="264.36" x2="362.65" y2="264.36" stroke="#000" stroke-width="1.4" />
<line x1="372.56" y1="305.21" x2="372.56" y2="302.21" stroke="#000" stroke-width="1.4" />
<line x1="369.66" y1="302.21" x2="375.46" y2="302.21" stroke="#000" stroke-width="1.4" />
<line x1="372.56" y1="305.21" x2="372.56" y2="308.21" stroke="#000" stroke-width="1.4" />
<line x1="369.66" y1="308.21" x2="375.46" y2="308.21" stroke="#000" stroke-width="1.4" />
<circle cx="338.40" cy="216.60" r="2.1999999999999997" fill="#000"/>
<circle cx="359.75" cy="260.36" r="2.1999999999999997" fill="#000"/>
<circle cx="372.56" cy="305.21" r="2.1999999999999997" fill="#000"/>
<circle cx="389.64" cy="322.72" r="2.1999999999999997" fill="#000"/>
<circle cx="402.45" cy="326.00" r="2.1999999999999997" fill="#000"/>
<circle cx="415.26" cy="326.00" r="2.1999999999999997" fill="#000"/>
<circle cx="423.80" cy="326.00" r="2.1999999999999997" fill="#000"/>
<circle cx="432.34" cy="326.00" r="2.1999999999999997" fill="#000"/>
<polyline points="338.40,326.00 359.75,317.25 372.56,315.06 389.64,282.24 402.45,260.36 415.26,251.61 423.80,247.23 432.34,238.48" fill="none" stroke="#000" stroke-width="1.4" stroke-linejoin="round"/>
<line x1="372.56" y1="315.06" x2="372.56" y2="312.46" stroke="#000" stroke-width="1.4" />
<line x1="369.66" y1="312.46" x2="375.46" y2="312.46" stroke="#000" stroke-width="1.4" />
<line x1="372.56" y1="315.06" x2="372.56" y2="317.66" stroke="#000" stroke-width="1.4" />
<line x1="369.66" y1="317.66" x2="375.46" y2="317.66" stroke="#000" stroke-width="1.4" />
<line x1="389.64" y1="282.24" x2="389.64" y2="279.64" stroke="#000" stroke-width="1.4" />
<line x1="386.74" y1="279.64" x2="392.54" y2="279.64" stroke="#000" stroke-width="1.4" />
<line x1="389.64" y1="282.24" x2="389.64" y2="284.84" stroke="#000" stroke-width="1.4" />
<line x1="386.74" y1="284.84" x2="392.54" y2="284.84" stroke="#000" stroke-width="1.4" />
<line x1="402.45" y1="260.36" x2="402.45" y2="254.36" stroke="#000" stroke-width="1.4" />
<line x1="399.55" y1="254.36" x2="405.35" y2="254.36" stroke="#000" stroke-width="1.4" />
<line x1="402.45" y1="260.36" x2="402.45" y2="266.36" stroke="#000" stroke-width="1.4" />
<line x1="399.55" y1="266.36" x2="405.35" y2="266.36" stroke="#000" stroke-width="1.4" />
<line x1="415.26" y1="251.61" x2="415.26" y2="249.01" stroke="#000" stroke-width="1.4" />
<line x1="412.36" y1="249.01" x2="418.16" y2="249.01" stroke="#000" stroke-width="1.4" />
<line x1="415.26" y1="251.61" x2="415.26" y2="254.21" stroke="#000" stroke-width="1.4" />
<line x1="412.36" y1="254.21" x2="418.16" y2="254.21" stroke="#000" stroke-width="1.4" />
<line x1="423.80" y1="247.23" x2="423.80" y2="243.23" stroke="#000" stroke-width="1.4" />
<line x1="420.90" y1="243.23" x2="426.70" y2="243.23" stroke="#000" stroke-width="1.4" />
<line x1="423.80" y1="247.23" x2="423.80" y2="251.23" stroke="#000" stroke-width="1.4" />
<line x1="420.90" y1="251.23" x2="426.70" y2="251.23" stroke="#000" stroke-width="1.4" />
<line x1="432.34" y1="238.48" x2="432.34" y2="235.48" stroke="#000" stroke-width="1.4" />
<line x1="429.44" y1="235.48" x2="435.24" y2="235.48" stroke="#000" stroke-width="1.4" />
<line x1="432.34" y1="238.48" x2="432.34" y2="241.48" stroke="#000" stroke-width="1.4" />
<line x1="429.44" y1="241.48" x2="435.24" y2="241.48" stroke="#000" stroke-width="1.4" />
<circle cx="338.40" cy="326.00" r="1.95" fill="#fff" stroke="#000" stroke-width="1.6"/>
<circle cx="359.75" cy="317.25" r="1.95" fill="#fff" stroke="#000" stroke-width="1.6"/>
<circle cx="372.56" cy="315.06" r="1.95" fill="#fff" stroke="#000" stroke-width="1.6"/>
<circle cx="389.64" cy="282.24" r="1.95" fill="#fff" stroke="#000" stroke-width="1.6"/>
<circle cx="402.45" cy="260.36" r="1.95" fill="#fff" stroke="#000" stroke-width="1.6"/>
<circle cx="415.26" cy="251.61" r="1.95" fill="#fff" stroke="#000" stroke-width="1.6"/>
<circle cx="423.80" cy="247.23" r="1.95" fill="#fff" stroke="#000" stroke-width="1.6"/>
<circle cx="432.34" cy="238.48" r="1.95" fill="#fff" stroke="#000" stroke-width="1.6"/>
<line x1="453.70" y1="224.20" x2="466.20" y2="224.20" stroke="#000" stroke-width="1.3" />
<circle cx="459.95" cy="224.20" r="1.7" fill="#fff" stroke="#000" stroke-width="1.3"/>
<text x="467.30" y="227.55" font-size="9.3" text-anchor="start" font-weight="bold" >CD15+</text>
<line x1="453.70" y1="233.60" x2="466.20" y2="233.60" stroke="#000" stroke-width="1.3" />
<circle cx="459.95" cy="233.60" r="2.1" fill="#000"/>
<text x="467.30" y="236.95" font-size="9.3" text-anchor="start" font-weight="bold" >CD34+</text>
<line x1="331.90" y1="392.55" x2="331.90" y2="502.95" stroke="#000" stroke-width="1.5" />
<line x1="328.60" y1="502.20" x2="331.90" y2="502.20" stroke="#000" stroke-width="1.5" />
<text x="328.10" y="505.80" font-size="10" text-anchor="end" font-weight="bold" >0</text>
<line x1="328.60" y1="480.42" x2="331.90" y2="480.42" stroke="#000" stroke-width="1.5" />
<text x="328.10" y="484.02" font-size="10" text-anchor="end" font-weight="bold" >20</text>
<line x1="328.60" y1="458.64" x2="331.90" y2="458.64" stroke="#000" stroke-width="1.5" />
<text x="328.10" y="462.24" font-size="10" text-anchor="end" font-weight="bold" >40</text>
<line x1="328.60" y1="436.86" x2="331.90" y2="436.86" stroke="#000" stroke-width="1.5" />
<text x="328.10" y="440.46" font-size="10" text-anchor="end" font-weight="bold" >60</text>
<line x1="328.60" y1="415.08" x2="331.90" y2="415.08" stroke="#000" stroke-width="1.5" />
<text x="328.10" y="418.68" font-size="10" text-anchor="end" font-weight="bold" >80</text>
<line x1="328.60" y1="393.30" x2="331.90" y2="393.30" stroke="#000" stroke-width="1.5" />
<text x="328.10" y="396.90" font-size="10" text-anchor="end" font-weight="bold" >100</text>
<line x1="339.15" y1="510.60" x2="448.15" y2="510.60" stroke="#000" stroke-width="1.5" />
<line x1="339.90" y1="510.60" x2="339.90" y2="513.40" stroke="#000" stroke-width="1.5" />
<text x="339.90" y="523.60" font-size="10" text-anchor="middle" font-weight="bold" >0</text>
<line x1="361.40" y1="510.60" x2="361.40" y2="513.40" stroke="#000" stroke-width="1.5" />
<text x="361.40" y="523.60" font-size="10" text-anchor="middle" font-weight="bold" >5</text>
<line x1="382.90" y1="510.60" x2="382.90" y2="513.40" stroke="#000" stroke-width="1.5" />
<text x="382.90" y="523.60" font-size="10" text-anchor="middle" font-weight="bold" >10</text>
<line x1="404.40" y1="510.60" x2="404.40" y2="513.40" stroke="#000" stroke-width="1.5" />
<text x="404.40" y="523.60" font-size="10" text-anchor="middle" font-weight="bold" >15</text>
<line x1="425.90" y1="510.60" x2="425.90" y2="513.40" stroke="#000" stroke-width="1.5" />
<text x="425.90" y="523.60" font-size="10" text-anchor="middle" font-weight="bold" >20</text>
<line x1="447.40" y1="510.60" x2="447.40" y2="513.40" stroke="#000" stroke-width="1.5" />
<text x="447.40" y="523.60" font-size="10" text-anchor="middle" font-weight="bold" >25</text>
<text x="394.00" y="538.70" font-size="10" text-anchor="middle" font-weight="bold" >Days</text>
<text transform="translate(306.00,447.00) rotate(-90)" font-size="10.6" text-anchor="middle" font-weight="bold">% of Total Cells</text>
<polyline points="339.90,393.30 361.40,415.08 374.30,447.75 391.50,493.49 404.40,502.20" fill="none" stroke="#000" stroke-width="1.4" stroke-linejoin="round"/>
<polyline points="339.90,502.20 361.40,482.60 374.30,469.53 391.50,491.31 404.40,502.20 417.30,502.20 425.90,502.20 434.50,502.20 447.40,502.20" fill="none" stroke="#000" stroke-width="1.4" stroke-linejoin="round"/>
<polyline points="361.40,502.20 374.30,480.42 391.50,458.64 404.40,461.91 417.30,469.53 434.50,485.87 447.40,498.93" fill="none" stroke="#000" stroke-width="1.4" stroke-linejoin="round"/>
<polyline points="339.90,502.20 361.40,502.20 374.30,502.20 391.50,460.82 404.40,447.75 417.30,436.86 425.90,430.33 434.50,423.79 447.40,406.37" fill="none" stroke="#000" stroke-width="1.4" stroke-linejoin="round"/>
<line x1="361.40" y1="482.60" x2="361.40" y2="480.40" stroke="#000" stroke-width="1.4" />
<line x1="358.50" y1="480.40" x2="364.30" y2="480.40" stroke="#000" stroke-width="1.4" />
<line x1="361.40" y1="482.60" x2="361.40" y2="484.80" stroke="#000" stroke-width="1.4" />
<line x1="358.50" y1="484.80" x2="364.30" y2="484.80" stroke="#000" stroke-width="1.4" />
<line x1="374.30" y1="469.53" x2="374.30" y2="466.93" stroke="#000" stroke-width="1.4" />
<line x1="371.40" y1="466.93" x2="377.20" y2="466.93" stroke="#000" stroke-width="1.4" />
<line x1="374.30" y1="469.53" x2="374.30" y2="472.13" stroke="#000" stroke-width="1.4" />
<line x1="371.40" y1="472.13" x2="377.20" y2="472.13" stroke="#000" stroke-width="1.4" />
<line x1="404.40" y1="447.75" x2="404.40" y2="446.25" stroke="#000" stroke-width="1.4" />
<line x1="401.50" y1="446.25" x2="407.30" y2="446.25" stroke="#000" stroke-width="1.4" />
<line x1="404.40" y1="447.75" x2="404.40" y2="449.25" stroke="#000" stroke-width="1.4" />
<line x1="401.50" y1="449.25" x2="407.30" y2="449.25" stroke="#000" stroke-width="1.4" />
<line x1="417.30" y1="436.86" x2="417.30" y2="433.86" stroke="#000" stroke-width="1.4" />
<line x1="414.40" y1="433.86" x2="420.20" y2="433.86" stroke="#000" stroke-width="1.4" />
<line x1="417.30" y1="436.86" x2="417.30" y2="439.86" stroke="#000" stroke-width="1.4" />
<line x1="414.40" y1="439.86" x2="420.20" y2="439.86" stroke="#000" stroke-width="1.4" />
<line x1="425.90" y1="430.33" x2="425.90" y2="426.33" stroke="#000" stroke-width="1.4" />
<line x1="423.00" y1="426.33" x2="428.80" y2="426.33" stroke="#000" stroke-width="1.4" />
<line x1="425.90" y1="430.33" x2="425.90" y2="434.33" stroke="#000" stroke-width="1.4" />
<line x1="423.00" y1="434.33" x2="428.80" y2="434.33" stroke="#000" stroke-width="1.4" />
<line x1="434.50" y1="423.79" x2="434.50" y2="418.79" stroke="#000" stroke-width="1.4" />
<line x1="431.60" y1="418.79" x2="437.40" y2="418.79" stroke="#000" stroke-width="1.4" />
<line x1="434.50" y1="423.79" x2="434.50" y2="428.79" stroke="#000" stroke-width="1.4" />
<line x1="431.60" y1="428.79" x2="437.40" y2="428.79" stroke="#000" stroke-width="1.4" />
<line x1="447.40" y1="406.37" x2="447.40" y2="403.37" stroke="#000" stroke-width="1.4" />
<line x1="444.50" y1="403.37" x2="450.30" y2="403.37" stroke="#000" stroke-width="1.4" />
<line x1="447.40" y1="406.37" x2="447.40" y2="409.37" stroke="#000" stroke-width="1.4" />
<line x1="444.50" y1="409.37" x2="450.30" y2="409.37" stroke="#000" stroke-width="1.4" />
<line x1="391.50" y1="458.64" x2="391.50" y2="455.84" stroke="#000" stroke-width="1.4" />
<line x1="388.60" y1="455.84" x2="394.40" y2="455.84" stroke="#000" stroke-width="1.4" />
<line x1="391.50" y1="458.64" x2="391.50" y2="461.44" stroke="#000" stroke-width="1.4" />
<line x1="388.60" y1="461.44" x2="394.40" y2="461.44" stroke="#000" stroke-width="1.4" />
<line x1="404.40" y1="461.91" x2="404.40" y2="459.11" stroke="#000" stroke-width="1.4" />
<line x1="401.50" y1="459.11" x2="407.30" y2="459.11" stroke="#000" stroke-width="1.4" />
<line x1="404.40" y1="461.91" x2="404.40" y2="464.71" stroke="#000" stroke-width="1.4" />
<line x1="401.50" y1="464.71" x2="407.30" y2="464.71" stroke="#000" stroke-width="1.4" />
<line x1="417.30" y1="469.53" x2="417.30" y2="464.53" stroke="#000" stroke-width="1.4" />
<line x1="414.40" y1="464.53" x2="420.20" y2="464.53" stroke="#000" stroke-width="1.4" />
<line x1="417.30" y1="469.53" x2="417.30" y2="474.53" stroke="#000" stroke-width="1.4" />
<line x1="414.40" y1="474.53" x2="420.20" y2="474.53" stroke="#000" stroke-width="1.4" />
<line x1="361.40" y1="415.08" x2="361.40" y2="410.08" stroke="#000" stroke-width="1.4" />
<line x1="358.50" y1="410.08" x2="364.30" y2="410.08" stroke="#000" stroke-width="1.4" />
<line x1="361.40" y1="415.08" x2="361.40" y2="420.08" stroke="#000" stroke-width="1.4" />
<line x1="358.50" y1="420.08" x2="364.30" y2="420.08" stroke="#000" stroke-width="1.4" />
<line x1="374.30" y1="447.75" x2="374.30" y2="443.75" stroke="#000" stroke-width="1.4" />
<line x1="371.40" y1="443.75" x2="377.20" y2="443.75" stroke="#000" stroke-width="1.4" />
<line x1="374.30" y1="447.75" x2="374.30" y2="451.75" stroke="#000" stroke-width="1.4" />
<line x1="371.40" y1="451.75" x2="377.20" y2="451.75" stroke="#000" stroke-width="1.4" />
<circle cx="339.90" cy="502.20" r="2.3" fill="#000"/>
<circle cx="361.40" cy="482.60" r="2.3" fill="#000"/>
<circle cx="374.30" cy="469.53" r="2.3" fill="#000"/>
<circle cx="391.50" cy="491.31" r="2.3" fill="#000"/>
<circle cx="404.40" cy="502.20" r="2.3" fill="#000"/>
<circle cx="417.30" cy="502.20" r="2.3" fill="#000"/>
<circle cx="425.90" cy="502.20" r="2.3" fill="#000"/>
<circle cx="434.50" cy="502.20" r="2.3" fill="#000"/>
<circle cx="447.40" cy="502.20" r="2.3" fill="#000"/>
<rect x="337.65" y="499.95" width="4.5" height="4.5" fill="#000"/>
<rect x="359.15" y="499.95" width="4.5" height="4.5" fill="#000"/>
<rect x="372.05" y="499.95" width="4.5" height="4.5" fill="#000"/>
<rect x="389.25" y="458.57" width="4.5" height="4.5" fill="#000"/>
<rect x="402.15" y="445.50" width="4.5" height="4.5" fill="#000"/>
<rect x="415.05" y="434.61" width="4.5" height="4.5" fill="#000"/>
<rect x="423.65" y="428.08" width="4.5" height="4.5" fill="#000"/>
<rect x="432.25" y="421.54" width="4.5" height="4.5" fill="#000"/>
<rect x="445.15" y="404.12" width="4.5" height="4.5" fill="#000"/>
<rect x="372.40" y="478.52" width="3.8" height="3.8" fill="#fff" stroke="#000" stroke-width="1.5"/>
<rect x="389.60" y="456.74" width="3.8" height="3.8" fill="#fff" stroke="#000" stroke-width="1.5"/>
<rect x="402.50" y="460.01" width="3.8" height="3.8" fill="#fff" stroke="#000" stroke-width="1.5"/>
<rect x="415.40" y="467.63" width="3.8" height="3.8" fill="#fff" stroke="#000" stroke-width="1.5"/>
<rect x="432.60" y="483.97" width="3.8" height="3.8" fill="#fff" stroke="#000" stroke-width="1.5"/>
<rect x="445.50" y="497.03" width="3.8" height="3.8" fill="#fff" stroke="#000" stroke-width="1.5"/>
<circle cx="339.90" cy="393.30" r="1.9" fill="#fff" stroke="#000" stroke-width="1.5"/>
<circle cx="361.40" cy="415.08" r="1.9" fill="#fff" stroke="#000" stroke-width="1.5"/>
<circle cx="374.30" cy="447.75" r="1.9" fill="#fff" stroke="#000" stroke-width="1.5"/>
<circle cx="391.50" cy="493.49" r="1.9" fill="#fff" stroke="#000" stroke-width="1.5"/>
<line x1="459.20" y1="400.40" x2="470.90" y2="400.40" stroke="#000" stroke-width="1.3" />
<circle cx="465.05" cy="400.40" r="1.7" fill="#fff" stroke="#000" stroke-width="1.3"/>
<text transform="translate(473.10,403.92) scale(1.0,1.1)" font-size="8.9" text-anchor="start" font-weight="bold" >Blasts</text>
<line x1="459.20" y1="410.40" x2="470.90" y2="410.40" stroke="#000" stroke-width="1.3" />
<circle cx="465.05" cy="410.40" r="2.1" fill="#000"/>
<text transform="translate(473.10,413.92) scale(1.0,1.1)" font-size="8.9" text-anchor="start" font-weight="bold" >Promyelo</text>
<line x1="459.20" y1="420.20" x2="470.90" y2="420.20" stroke="#000" stroke-width="1.3" />
<rect x="463.40" y="418.55" width="3.3" height="3.3" fill="#fff" stroke="#000" stroke-width="1.3"/>
<text transform="translate(473.10,423.72) scale(1.0,1.1)" font-size="8.9" text-anchor="start" font-weight="bold" textLength="46.6" lengthAdjust="spacingAndGlyphs">Myelocytes</text>
<line x1="459.20" y1="430.00" x2="470.90" y2="430.00" stroke="#000" stroke-width="1.3" />
<rect x="463.05" y="428.00" width="4.0" height="4.0" fill="#000"/>
<text transform="translate(473.10,433.52) scale(1.0,1.1)" font-size="8.9" text-anchor="start" font-weight="bold" >Meta/Band</text>
<line x1="328.40" y1="546.00" x2="328.40" y2="641.10" stroke="#000" stroke-width="1.6" />
<line x1="326.20" y1="640.30" x2="328.40" y2="640.30" stroke="#000" stroke-width="1.6" />
<text transform="translate(325.60,644.26) scale(1.0,1.1)" font-size="10" text-anchor="end" font-weight="bold" >0.0</text>
<line x1="326.20" y1="623.40" x2="328.40" y2="623.40" stroke="#000" stroke-width="1.6" />
<text transform="translate(325.60,627.36) scale(1.0,1.1)" font-size="10" text-anchor="end" font-weight="bold" >0.2</text>
<line x1="326.20" y1="606.50" x2="328.40" y2="606.50" stroke="#000" stroke-width="1.6" />
<text transform="translate(325.60,610.46) scale(1.0,1.1)" font-size="10" text-anchor="end" font-weight="bold" >0.4</text>
<line x1="326.20" y1="589.60" x2="328.40" y2="589.60" stroke="#000" stroke-width="1.6" />
<text transform="translate(325.60,593.56) scale(1.0,1.1)" font-size="10" text-anchor="end" font-weight="bold" >0.6</text>
<line x1="326.20" y1="572.70" x2="328.40" y2="572.70" stroke="#000" stroke-width="1.6" />
<text transform="translate(325.60,576.66) scale(1.0,1.1)" font-size="10" text-anchor="end" font-weight="bold" >0.8</text>
<line x1="326.20" y1="555.80" x2="328.40" y2="555.80" stroke="#000" stroke-width="1.6" />
<text transform="translate(325.60,559.76) scale(1.0,1.1)" font-size="10" text-anchor="end" font-weight="bold" >1.0</text>
<line x1="327.60" y1="640.30" x2="460.50" y2="640.30" stroke="#000" stroke-width="1.7" />
<rect x="332.0" y="555.80" width="14.00" height="84.50" fill="#a8a8a8" stroke="#000" stroke-width="1.7"/>
<line x1="339.00" y1="555.80" x2="339.00" y2="555.46" stroke="#000" stroke-width="1.5" />
<line x1="334.90" y1="555.46" x2="343.10" y2="555.46" stroke="#000" stroke-width="1.5" />
<line x1="339.00" y1="555.80" x2="339.00" y2="556.14" stroke="#000" stroke-width="1.5" />
<line x1="334.90" y1="556.14" x2="343.10" y2="556.14" stroke="#000" stroke-width="1.5" />
<rect x="354.0" y="582.42" width="14.00" height="57.88" fill="#a8a8a8" stroke="#000" stroke-width="1.7"/>
<line x1="361.00" y1="582.42" x2="361.00" y2="578.19" stroke="#000" stroke-width="1.5" />
<line x1="356.90" y1="578.19" x2="365.10" y2="578.19" stroke="#000" stroke-width="1.5" />
<line x1="361.00" y1="582.42" x2="361.00" y2="586.64" stroke="#000" stroke-width="1.5" />
<line x1="356.90" y1="586.64" x2="365.10" y2="586.64" stroke="#000" stroke-width="1.5" />
<rect x="375.9" y="624.92" width="14.20" height="15.38" fill="#a8a8a8" stroke="#000" stroke-width="1.7"/>
<line x1="383.00" y1="624.92" x2="383.00" y2="622.55" stroke="#000" stroke-width="1.5" />
<line x1="378.90" y1="622.55" x2="387.10" y2="622.55" stroke="#000" stroke-width="1.5" />
<line x1="383.00" y1="624.92" x2="383.00" y2="627.29" stroke="#000" stroke-width="1.5" />
<line x1="378.90" y1="627.29" x2="387.10" y2="627.29" stroke="#000" stroke-width="1.5" />
<rect x="397.6" y="639.12" width="14.20" height="1.18" fill="#a8a8a8" stroke="#000" stroke-width="1.7"/>
<rect x="419.5" y="639.79" width="14.00" height="0.51" fill="#a8a8a8" stroke="#000" stroke-width="1.7"/>
<rect x="441.5" y="640.05" width="14.00" height="0.25" fill="#a8a8a8" stroke="#000" stroke-width="1.7"/>
<text transform="translate(338.50,655.60) scale(1.0,1.1)" font-size="10" text-anchor="middle" font-weight="bold" >0</text>
<text transform="translate(361.00,655.60) scale(1.0,1.1)" font-size="10" text-anchor="middle" font-weight="bold" >6</text>
<text transform="translate(383.00,655.60) scale(1.0,1.1)" font-size="10" text-anchor="middle" font-weight="bold" >10</text>
<text transform="translate(405.00,655.60) scale(1.0,1.1)" font-size="10" text-anchor="middle" font-weight="bold" >13</text>
<text transform="translate(427.20,655.60) scale(1.0,1.1)" font-size="10" text-anchor="middle" font-weight="bold" >17</text>
<text transform="translate(448.80,655.60) scale(1.0,1.1)" font-size="10" text-anchor="middle" font-weight="bold" >19</text>
<text transform="translate(393.70,677.80) scale(1.0,1.1)" font-size="10" text-anchor="middle" font-weight="bold" >Days</text>
<text transform="translate(299.80,591.20) rotate(-90) scale(1.1,1.0)" font-size="10.4" text-anchor="middle" font-weight="bold">NFI-A mRNA</text>
<rect x="370.9" y="551.0" width="24.5" height="22.4" rx="5" ry="5" fill="#fff" stroke="#000" stroke-width="1.5"/>
<text x="383.15" y="567.60" font-size="15" text-anchor="middle" font-weight="bold" >G</text>
<text transform="translate(346.00,696.00) scale(1.0,1.1)" font-size="10" text-anchor="middle" font-weight="bold" >0</text>
<text transform="translate(377.50,696.00) scale(1.0,1.1)" font-size="10" text-anchor="middle" font-weight="bold" >5</text>
<text transform="translate(406.50,696.00) scale(1.0,1.1)" font-size="10" text-anchor="middle" font-weight="bold" >10</text>
<text transform="translate(437.50,696.00) scale(1.0,1.1)" font-size="10" text-anchor="middle" font-weight="bold" >15</text>
<text x="290.80" y="722.80" font-size="9.75" text-anchor="start" font-weight="bold" >NFI-A</text>
<text x="286.00" y="755.50" font-size="9.75" text-anchor="start" font-weight="bold" ><tspan font-weight="normal" font-size="11" stroke-width="0">&#946;</tspan>-Actin</text>
</svg>
</body></html>
